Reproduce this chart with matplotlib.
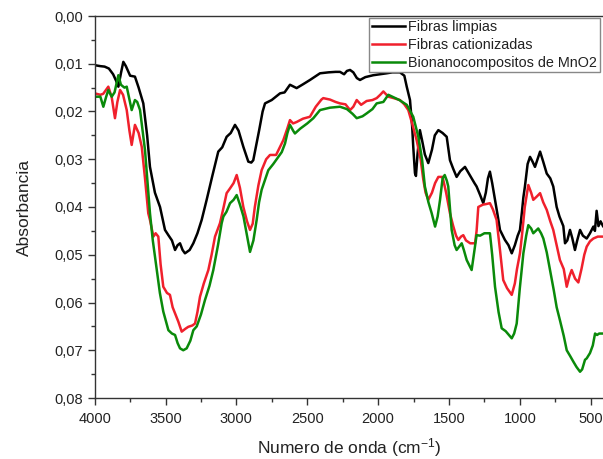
import matplotlib
matplotlib.use("Agg")
import matplotlib.pyplot as plt
from matplotlib.ticker import MultipleLocator, FuncFormatter

plt.rcParams['font.family'] = ['Liberation Sans', 'DejaVu Sans']
plt.rcParams['mathtext.default'] = 'regular'

# --- data (wavenumber cm-1, absorbance) ---
wn_black = [4000, 3960, 3930, 3900, 3870, 3850, 3833, 3815, 3798, 3780, 3750, 3716, 3690, 3657, 3630, 3610,
            3575, 3539, 3504, 3480, 3455, 3433, 3415, 3398, 3380, 3363, 3330, 3304, 3275, 3245, 3210, 3170,
            3128, 3100, 3069, 3040, 3010, 2985, 2951, 2916, 2895, 2881, 2840, 2815, 2798, 2751, 2692, 2660,
            2622, 2575, 2530, 2481, 2440, 2410, 2350, 2300, 2269, 2240, 2220, 2198, 2175, 2150, 2128, 2090,
            2034, 1987, 1940, 1900, 1846, 1815, 1798, 1775, 1760, 1752, 1740, 1733, 1722, 1705, 1690, 1670,
            1646, 1620, 1600, 1575, 1545, 1516, 1493, 1470, 1446, 1420, 1387, 1350, 1320, 1305, 1280, 1258,
            1240, 1225, 1211, 1195, 1175, 1155, 1140, 1120, 1105, 1080, 1057, 1035, 1015, 999, 985, 975,
            964, 945, 928, 910, 893, 875, 857, 835, 810, 785, 764, 740, 720, 693, 681, 665, 646, 630, 611,
            595, 575, 555, 528, 505, 481, 470, 458, 445, 430, 413]
abs_black = [0.0103, 0.0105, 0.0106, 0.0110, 0.0122, 0.0135, 0.0148, 0.0120, 0.0096, 0.0105, 0.0125, 0.0127,
             0.0150, 0.0183, 0.0250, 0.0316, 0.0370, 0.0400, 0.0448, 0.0459, 0.0470, 0.0490, 0.0480, 0.0476,
             0.0490, 0.0497, 0.0490, 0.0476, 0.0455, 0.0427, 0.0385, 0.0335, 0.0284, 0.0275, 0.0253, 0.0245,
             0.0228, 0.0240, 0.0274, 0.0305, 0.0307, 0.0302, 0.0240, 0.0200, 0.0183, 0.0176, 0.0162, 0.0160,
             0.0144, 0.0151, 0.0143, 0.0134, 0.0126, 0.0120, 0.0118, 0.0117, 0.0117, 0.0122, 0.0115, 0.0113,
             0.0118, 0.0130, 0.0134, 0.0128, 0.0124, 0.0122, 0.0120, 0.0118, 0.0118, 0.0125, 0.0148, 0.0176,
             0.0230, 0.0274, 0.0329, 0.0335, 0.0290, 0.0239, 0.0260, 0.0290, 0.0308, 0.0280, 0.0250, 0.0239,
             0.0245, 0.0253, 0.0302, 0.0320, 0.0337, 0.0325, 0.0316, 0.0335, 0.0350, 0.0357, 0.0375, 0.0392,
             0.0370, 0.0340, 0.0326, 0.0350, 0.0385, 0.0420, 0.0448, 0.0460, 0.0469, 0.0480, 0.0497, 0.0480,
             0.0460, 0.0448, 0.0410, 0.0380, 0.0357, 0.0310, 0.0295, 0.0305, 0.0316, 0.0300, 0.0284, 0.0305,
             0.0330, 0.0340, 0.0357, 0.0400, 0.0420, 0.0440, 0.0476, 0.0470, 0.0448, 0.0465, 0.0490, 0.0470,
             0.0448, 0.0460, 0.0466, 0.0455, 0.0441, 0.0450, 0.0408, 0.0440, 0.0430, 0.0440]

wn_red = [4000, 3960, 3940, 3904, 3880, 3857, 3840, 3821, 3800, 3774, 3755, 3739, 3716, 3690, 3668, 3645,
          3622, 3610, 3586, 3570, 3551, 3535, 3516, 3490, 3469, 3450, 3433, 3410, 3386, 3360, 3340, 3310,
          3292, 3275, 3257, 3230, 3198, 3175, 3151, 3116, 3090, 3069, 3045, 3020, 2998, 2975, 2951, 2925,
          2904, 2885, 2870, 2845, 2822, 2790, 2763, 2720, 2669, 2640, 2622, 2600, 2575, 2530, 2481, 2440,
          2400, 2387, 2340, 2300, 2269, 2230, 2198, 2175, 2151, 2120, 2081, 2040, 2010, 1985, 1963, 1928,
          1890, 1846, 1815, 1787, 1760, 1728, 1700, 1681, 1665, 1646, 1620, 1598, 1575, 1545, 1520, 1493,
          1470, 1450, 1434, 1415, 1399, 1380, 1350, 1316, 1305, 1293, 1260, 1240, 1211, 1190, 1164, 1140,
          1117, 1090, 1057, 1035, 1020, 999, 985, 965, 940, 920, 905, 880, 857, 835, 810, 785, 764, 740,
          717, 690, 669, 650, 634, 610, 587, 565, 545, 528, 505, 481, 450, 413]
abs_red = [0.0162, 0.0165, 0.0163, 0.0148, 0.0170, 0.0214, 0.0180, 0.0155, 0.0165, 0.0197, 0.0240, 0.0270,
           0.0228, 0.0245, 0.0274, 0.0340, 0.0413, 0.0427, 0.0462, 0.0455, 0.0462, 0.0520, 0.0567, 0.0580,
           0.0584, 0.0610, 0.0623, 0.0640, 0.0661, 0.0655, 0.0651, 0.0648, 0.0644, 0.0620, 0.0588, 0.0560,
           0.0532, 0.0500, 0.0462, 0.0434, 0.0400, 0.0371, 0.0361, 0.0350, 0.0333, 0.0360, 0.0400, 0.0430,
           0.0448, 0.0435, 0.0400, 0.0355, 0.0323, 0.0300, 0.0291, 0.0291, 0.0260, 0.0235, 0.0218, 0.0225,
           0.0222, 0.0215, 0.0211, 0.0190, 0.0175, 0.0172, 0.0175, 0.0180, 0.0183, 0.0185, 0.0197, 0.0190,
           0.0176, 0.0186, 0.0178, 0.0176, 0.0172, 0.0165, 0.0158, 0.0169, 0.0172, 0.0176, 0.0185, 0.0197,
           0.0225, 0.0260, 0.0300, 0.0343, 0.0370, 0.0385, 0.0370, 0.0350, 0.0337, 0.0337, 0.0370, 0.0413,
           0.0440, 0.0460, 0.0469, 0.0462, 0.0459, 0.0470, 0.0476, 0.0476, 0.0450, 0.0400, 0.0395, 0.0394,
           0.0392, 0.0405, 0.0427, 0.0490, 0.0553, 0.0570, 0.0584, 0.0560, 0.0530, 0.0497, 0.0460, 0.0400,
           0.0354, 0.0370, 0.0385, 0.0378, 0.0371, 0.0390, 0.0406, 0.0430, 0.0448, 0.0480, 0.0511, 0.0530,
           0.0567, 0.0545, 0.0532, 0.0550, 0.0558, 0.0530, 0.0500, 0.0483, 0.0472, 0.0466, 0.0462, 0.0462]

wn_green = [4000, 3960, 3939, 3920, 3904, 3880, 3860, 3833, 3815, 3790, 3774, 3739, 3716, 3700, 3680, 3645,
            3610, 3590, 3562, 3540, 3516, 3480, 3455, 3433, 3415, 3398, 3375, 3351, 3325, 3304, 3280, 3250,
            3222, 3190, 3163, 3130, 3104, 3092, 3070, 3045, 3020, 2998, 2975, 2950, 2925, 2904, 2880, 2857,
            2840, 2822, 2800, 2775, 2740, 2704, 2680, 2657, 2640, 2622, 2600, 2587, 2550, 2500, 2457, 2410,
            2340, 2269, 2220, 2180, 2151, 2110, 2081, 2040, 2010, 1963, 1928, 1900, 1850, 1798, 1752, 1716,
            1690, 1670, 1645, 1622, 1598, 1580, 1563, 1545, 1530, 1515, 1505, 1481, 1460, 1446, 1410, 1395,
            1375, 1340, 1320, 1305, 1280, 1250, 1211, 1195, 1175, 1150, 1128, 1100, 1057, 1040, 1022, 1000,
            975, 955, 940, 920, 905, 888, 870, 850, 834, 810, 787, 760, 740, 717, 690, 669, 645, 622, 600,
            575, 560, 540, 528, 505, 485, 469, 455, 440, 413]
abs_green = [0.0169, 0.0169, 0.0190, 0.0170, 0.0155, 0.0169, 0.0160, 0.0124, 0.0144, 0.0150, 0.0148, 0.0197,
             0.0176, 0.0180, 0.0197, 0.0281, 0.0413, 0.0470, 0.0532, 0.0580, 0.0619, 0.0658, 0.0665, 0.0668,
             0.0685, 0.0696, 0.0700, 0.0696, 0.0680, 0.0658, 0.0650, 0.0625, 0.0595, 0.0565, 0.0532, 0.0480,
             0.0434, 0.0420, 0.0410, 0.0392, 0.0385, 0.0375, 0.0395, 0.0420, 0.0460, 0.0494, 0.0470, 0.0427,
             0.0390, 0.0364, 0.0345, 0.0323, 0.0310, 0.0295, 0.0285, 0.0267, 0.0245, 0.0228, 0.0240, 0.0246,
             0.0236, 0.0225, 0.0214, 0.0197, 0.0192, 0.0190, 0.0195, 0.0205, 0.0214, 0.0210, 0.0204, 0.0195,
             0.0183, 0.0180, 0.0165, 0.0169, 0.0176, 0.0186, 0.0211, 0.0253, 0.0300, 0.0357, 0.0390, 0.0413,
             0.0441, 0.0420, 0.0385, 0.0340, 0.0333, 0.0345, 0.0357, 0.0448, 0.0480, 0.0490, 0.0476, 0.0490,
             0.0511, 0.0532, 0.0490, 0.0459, 0.0460, 0.0455, 0.0455, 0.0500, 0.0567, 0.0620, 0.0654, 0.0660,
             0.0675, 0.0665, 0.0644, 0.0570, 0.0497, 0.0460, 0.0438, 0.0445, 0.0455, 0.0450, 0.0445, 0.0455,
             0.0466, 0.0495, 0.0532, 0.0575, 0.0610, 0.0637, 0.0670, 0.0700, 0.0712, 0.0724, 0.0735, 0.0745,
             0.0740, 0.0720, 0.0717, 0.0706, 0.0690, 0.0665, 0.0668, 0.0665, 0.0665]

labels = ["Fibras limpias", "Fibras cationizadas", "Bionanocompositos de MnO2"]
colors = ["#000000", "#f0202c", "#0a8a0a"]

fig = plt.figure(figsize=(6.03, 4.59), dpi=100)
ax = fig.add_axes([94.7 / 603, 1 - 398 / 459, 1 - 94.7 / 603, (398 - 16) / 459])

for wn, ab, lab, col in zip([wn_black, wn_red, wn_green], [abs_black, abs_red, abs_green], labels, colors):
    ax.plot(wn, ab, color=col, lw=1.8, label=lab, solid_joinstyle='round')

ax.set_xlim(4000, 413)
ax.set_ylim(0.08, 0.0)

ax.xaxis.set_major_locator(MultipleLocator(500))
ax.xaxis.set_minor_locator(MultipleLocator(250))
ax.yaxis.set_major_locator(MultipleLocator(0.01))
ax.yaxis.set_minor_locator(MultipleLocator(0.005))
ax.yaxis.set_major_formatter(FuncFormatter(lambda v, p: f"{v:.2f}".replace('.', ',')))

ax.tick_params(axis='both', which='major', direction='out', length=5, width=1, labelsize=10.5,
               labelcolor='#222222', color='#333333')
ax.tick_params(axis='both', which='minor', direction='out', length=3, width=1, color='#333333')
ax.tick_params(axis='x', pad=5)
ax.tick_params(top=False, right=False, which='both')

for s in ['left', 'bottom', 'top']:
    ax.spines[s].set_color('#333333')
    ax.spines[s].set_linewidth(1.0)
ax.spines['right'].set_visible(False)

ax.set_xlabel("Numero de onda (cm$^{-1}$)", fontsize=12.5, color='#222222', labelpad=7)
ax.set_ylabel("Absorbancia", fontsize=12.5, color='#222222', labelpad=16)

leg = ax.legend(loc='upper right', bbox_to_anchor=(0.994, 0.996), fontsize=10.4, frameon=True,
                fancybox=False, edgecolor='#888888', framealpha=1.0, borderpad=0.18, handlelength=2.3,
                handletextpad=0.25, labelspacing=0.26, borderaxespad=0)
leg.get_frame().set_linewidth(1.0)
for t in leg.get_texts():
    t.set_color('#222222')

fig.savefig("out.png", dpi=100)
